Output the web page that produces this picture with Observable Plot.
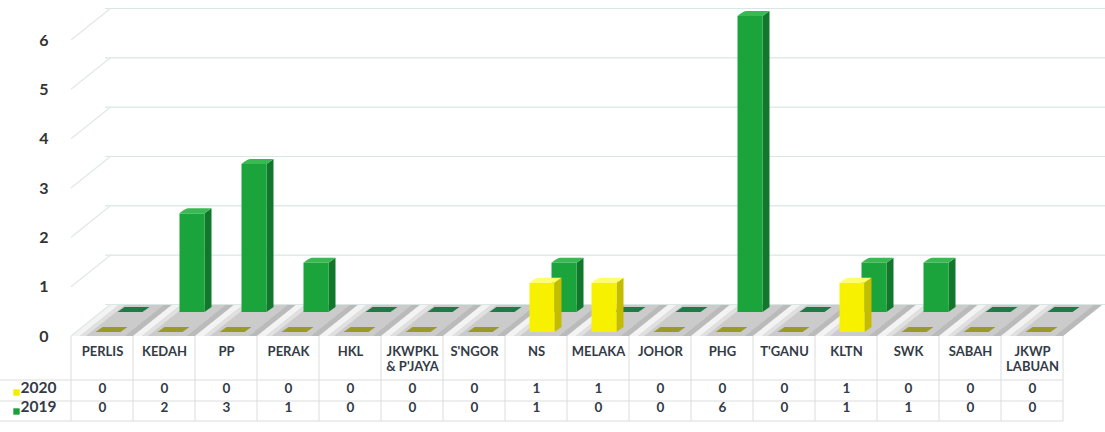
<!DOCTYPE html>
<html><head><meta charset="utf-8">
<script src="https://cdn.jsdelivr.net/npm/d3@7"></script>
<script src="https://cdn.jsdelivr.net/npm/@observablehq/plot@0.6"></script>
<style>body{margin:0;background:#fff} #chart svg{display:block;background:#fff}</style>
</head><body><div id="chart"></div>
<script>
const categories = ["PERLIS","KEDAH","PP","PERAK","HKL","JKWPKL\n& P'JAYA","S'NGOR","NS","MELAKA","JOHOR","PHG","T'GANU","KLTN","SWK","SABAH","JKWP\nLABUAN"];
const seriesNames = ["2020","2019"];
const values2020 = [0,0,0,0,0,0,0,1,1,0,0,0,1,0,0,0];
const values2019 = [0,2,3,1,0,0,0,1,0,0,6,0,1,1,0,0];
const yTicks = [0,1,2,3,4,5,6];

const rows2019 = categories.map((c,i)=>({cat:c, series:"2019", value:values2019[i]}));
const rows2020 = categories.map((c,i)=>({cat:c, series:"2020", value:values2020[i]}));

const style = {
  "2020": {face:"#f7f100", side:"#c3bc00", top:"#ffff6a", flat:"#9a9a2a", ox:6, oy:-4, legend:"#f2ee00"},
  "2019": {face:"#1ba43b", side:"#11782b", top:"#38ba52", flat:"#1f7a47", ox:28, oy:-24, legend:"#18a03a"}
};
const W = 25, DX = 7, DY = -5;       // bar face width and bar depth
const WALLX = 40, WALLY = -32;        // depth of the chart box
const FONT = "Lato, 'Open Sans', sans-serif";

function bars3d(data, name) {
  const s = style[name];
  return Plot.barY(data, {
    x: "cat", y: "value",
    render: (index, scales) => {
      const g = d3.create("svg:g");
      const bw = scales.x.bandwidth();
      for (const i of index) {
        const d = data[i];
        const L = scales.x(d.cat) + bw / 2 - W / 2 + s.ox;
        const b = scales.y(0) + s.oy;
        const t = scales.y(d.value) + s.oy;
        if (d.value > 0) {
          g.append("path").attr("fill", s.side)
            .attr("d", `M${L+W},${b}L${L+W+DX},${b+DY}L${L+W+DX},${t+DY}L${L+W},${t}Z`);
          g.append("rect").attr("fill", s.face).attr("x", L).attr("y", t).attr("width", W).attr("height", b - t);
          g.append("path").attr("fill", s.top)
            .attr("d", `M${L},${t}L${L+W},${t}L${L+W+DX},${t+DY}L${L+DX+2},${t+DY}Q${L+DX-1},${t+DY} ${L},${t}Z`);
        } else {
          g.append("path").attr("fill", s.flat)
            .attr("d", `M${L},${b}L${L+W},${b}L${L+W+DX},${b+DY}L${L+DX},${b+DY}Z`);
        }
      }
      return g.node();
    }
  });
}

// floor of the 3-D box, one tile per category
function floor(index, scales) {
  const g = d3.create("svg:g");
  const bw = scales.x.bandwidth();
  const y0 = scales.y(0);
  for (const c of categories) {
    const x0 = scales.x(c);
    const poly = (a, w, fill) => g.append("path").attr("fill", fill)
      .attr("d", `M${x0+a},${y0}L${x0+a+w},${y0}L${x0+a+w+WALLX},${y0+WALLY}L${x0+a+WALLX},${y0+WALLY}Z`);
    poly(0, bw, "#cbcbcb");
    poly(0, 9, "#f3f3f3");
    poly(9, 6, "#e0e0e0");
    poly(bw - 8, 8, "#bababa");
  }
  return g.node();
}

// side wall lines joining each tick label to the back wall
function sideWall(index, scales) {
  const g = d3.create("svg:g");
  const x0 = scales.x(categories[0]);
  for (const v of yTicks) {
    const y = scales.y(v);
    g.append("line").attr("x1", x0).attr("y1", y).attr("x2", x0 + WALLX).attr("y2", y + WALLY)
      .attr("stroke", "#dfe9e7").attr("stroke-width", 1.2);
  }
  return g.node();
}

// data-table grid lines under the chart
function tableGrid(index, scales, values, dims) {
  const g = d3.create("svg:g").attr("stroke", "#dcdcdc").attr("stroke-width", 1);
  const bw = scales.x.bandwidth();
  const top = scales.y(0);
  const bottom = top + 85;
  const xs = categories.map(c => scales.x(c)).concat([scales.x(categories[categories.length-1]) + bw]);
  for (const x of xs) g.append("line").attr("x1", x).attr("x2", x).attr("y1", top).attr("y2", bottom);
  const right = xs[xs.length-1];
  for (const y of [top + 44, top + 65, top + 85]) g.append("line").attr("x1", 0).attr("x2", right).attr("y1", y).attr("y2", y);
  return g.node();
}

const textCommon = {fontFamily: FONT, fill: "#343b46"};

const plot = Plot.plot({
  width: 1105,
  height: 432,
  marginLeft: 65,
  marginRight: 37,
  marginTop: 8,
  marginBottom: 96,
  style: {fontFamily: FONT, background: "#fff"},
  x: {type: "band", domain: categories, padding: 0, axis: null},
  y: {domain: [0, 6], range: [336, 40], axis: null},
  marks: [
    floor,
    Plot.ruleY(yTicks, {dx: WALLX, dy: WALLY, stroke: "#d9e7e4", strokeWidth: 1.2}),
    sideWall,
    bars3d(rows2019, "2019"),
    bars3d(rows2020, "2020"),
    Plot.axisY(yTicks, {tickSize: 0, tickPadding: 17, fontSize: 16, fontWeight: "bold", fill: "#333", label: null, fontFamily: FONT}),
    tableGrid,
    Plot.text(categories, {x: d => d, text: d => d, frameAnchor: "bottom", lineAnchor: "top", dy: 9, lineHeight: 1.15, fontSize: 13, fontWeight: "bold", ...textCommon}),
    Plot.text(categories, {x: d => d, text: (d, i) => values2020[i], frameAnchor: "bottom", dy: 56, fontSize: 13.5, fontWeight: "bold", ...textCommon}),
    Plot.text(categories, {x: d => d, text: (d, i) => values2019[i], frameAnchor: "bottom", dy: 75, fontSize: 13.5, fontWeight: "bold", ...textCommon}),
    ...seriesNames.map((s, k) => Plot.dot([s], {frameAnchor: "bottom-left", dx: -49, dy: 56 + 19 * k, r: 3.6, symbol: "square", fill: style[s].legend, stroke: "none"})),
    ...seriesNames.map((s, k) => Plot.text([s], {text: d => d, frameAnchor: "bottom-left", textAnchor: "start", dx: -45, dy: 56 + 19 * k, fontSize: 15.5, fontWeight: "bold", ...textCommon}))
  ]
});
document.getElementById("chart").appendChild(plot);
</script>
</body></html>
